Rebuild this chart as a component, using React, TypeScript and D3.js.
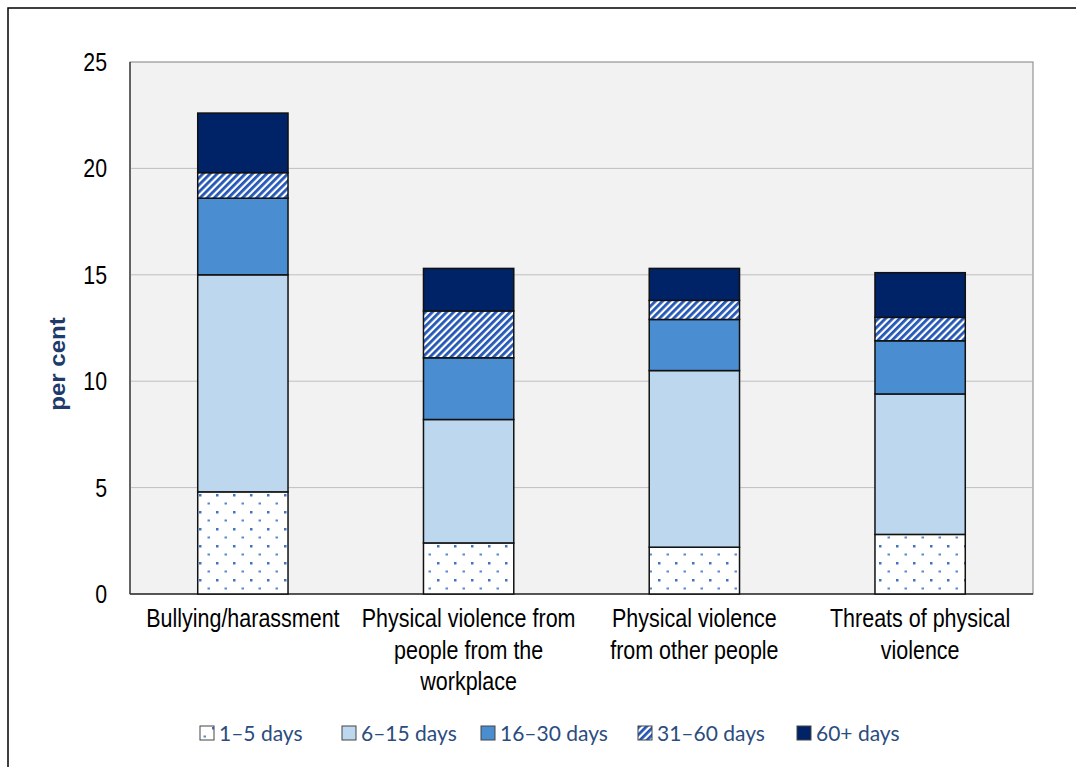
import * as d3 from 'd3';
import * as React from 'react';

const categories = [
    ['Bullying/harassment'],
    ['Physical violence from', 'people from the', 'workplace'],
    ['Physical violence', 'from other people'],
    ['Threats of physical', 'violence'],
];
const seriesNames = ['1–5 days', '6–15 days', '16–30 days', '31–60 days', '60+ days'];
const days1to5 = [4.8, 2.4, 2.2, 2.8];
const days6to15 = [10.2, 5.8, 8.3, 6.6];
const days16to30 = [3.6, 2.9, 2.4, 2.5];
const days31to60 = [1.2, 2.2, 0.9, 1.1];
const days60plus = [2.8, 2.0, 1.5, 2.1];
const yTicks = [0, 5, 10, 15, 20, 25];

const fills = ['url(#dots)', '#bdd7ee', '#4a8dd0', 'url(#stripes)', '#002266'];

const W = 1076;
const H = 767;
const plot = {left: 130, right: 1033, top: 62, bottom: 594};
const sx = 0.86;

export default function App() {
    const series = [days1to5, days6to15, days16to30, days31to60, days60plus];
    const table = categories.map((c, i) => {
        const row: any = {key: i};
        seriesNames.forEach((s, j) => { row[s] = series[j][i]; });
        return row;
    });
    const stacked = d3.stack<any>().keys(seriesNames)(table);

    const x = d3.scaleBand<number>()
        .domain(categories.map((_, i) => i))
        .range([plot.left, plot.right])
        .paddingInner(0.6)
        .paddingOuter(0.3);
    const y = d3.scaleLinear().domain([0, 25]).range([plot.bottom, plot.top]);

    const legendX = [200, 342, 481, 638, 797];

    return (
        <svg width={W} height={H} style={{position: 'absolute', left: 0, top: 0}}>
            <defs>
                <pattern id='dots' width={17} height={17} patternUnits='userSpaceOnUse' x={198} y={0}>
                    <rect width={17} height={17} fill='white' />
                    <rect x={1} y={1} width={2.5} height={2.5} fill='#3f74c0' />
                    <rect x={9.5} y={9.5} width={2.5} height={2} fill='#5a8acb' />
                </pattern>
                <pattern id='stripes' width={5} height={5} patternUnits='userSpaceOnUse' patternTransform='rotate(45)'>
                    <rect width={5} height={5} fill='white' />
                    <rect width={2.8} height={5} fill='#2356b5' />
                </pattern>
            </defs>
            <rect x={0} y={0} width={W} height={H} fill='white' />
            <rect x={8} y={8} width={W + 20} height={H + 20} fill='none' stroke='black' strokeWidth={1.5} />

            <rect x={plot.left} y={plot.top} width={plot.right - plot.left} height={plot.bottom - plot.top}
                fill='#f2f2f2' stroke='#808080' strokeWidth={1} />
            {yTicks.filter((t) => t > 0 && t < 25).map((t) => (
                <line key={t} x1={plot.left} x2={plot.right} y1={y(t)} y2={y(t)} stroke='#bfbfbf' strokeWidth={1} />
            ))}
            <line x1={plot.left} x2={plot.left} y1={plot.top} y2={plot.bottom} stroke='#333' strokeWidth={1.3} />
            <line x1={plot.left} x2={plot.right} y1={plot.bottom} y2={plot.bottom} stroke='#333' strokeWidth={1.3} />

            {stacked.map((s, si) => (
                <g key={s.key}>
                    {s.map((d, i) => (
                        <rect key={i} x={x(i)} width={x.bandwidth()} y={y(d[1])} height={y(d[0]) - y(d[1])}
                            fill={fills[si]} stroke='#111' strokeWidth={1.5} />
                    ))}
                </g>
            ))}

            {yTicks.map((t) => (
                <text key={t} transform={`translate(107,${y(t) + 9}) scale(0.82,1)`} textAnchor='end'
                    fontFamily='Liberation Sans, Arial, sans-serif' fontSize={26} fill='#000'>{t}</text>
            ))}

            <text transform={`translate(65,364) scale(0.92,1) rotate(-90)`} textAnchor='middle'
                fontFamily='Liberation Sans, Arial, sans-serif' fontSize={24} fontWeight='bold' fill='#203a6c'>per cent</text>

            {categories.map((lines, i) => (
                <g key={i}>
                    {lines.map((l, k) => (
                        <text key={k} transform={`translate(${x(i)! + x.bandwidth() / 2},${627 + k * 31.5}) scale(${sx},1)`}
                            textAnchor='middle' fontFamily='Liberation Sans, Arial, sans-serif' fontSize={25} fill='#000'>{l}</text>
                    ))}
                </g>
            ))}

            {seriesNames.map((s, i) => (
                <g key={s} transform={`translate(${legendX[i]},726)`}>
                    <rect x={0} y={0} width={14} height={14} fill={fills[i]} stroke='#444' strokeWidth={1} />
                    <text x={19} y={14.5} fontFamily='Lato, sans-serif' fontSize={21} fill='#2b4c7e'>{s}</text>
                </g>
            ))}
        </svg>
    );
}
